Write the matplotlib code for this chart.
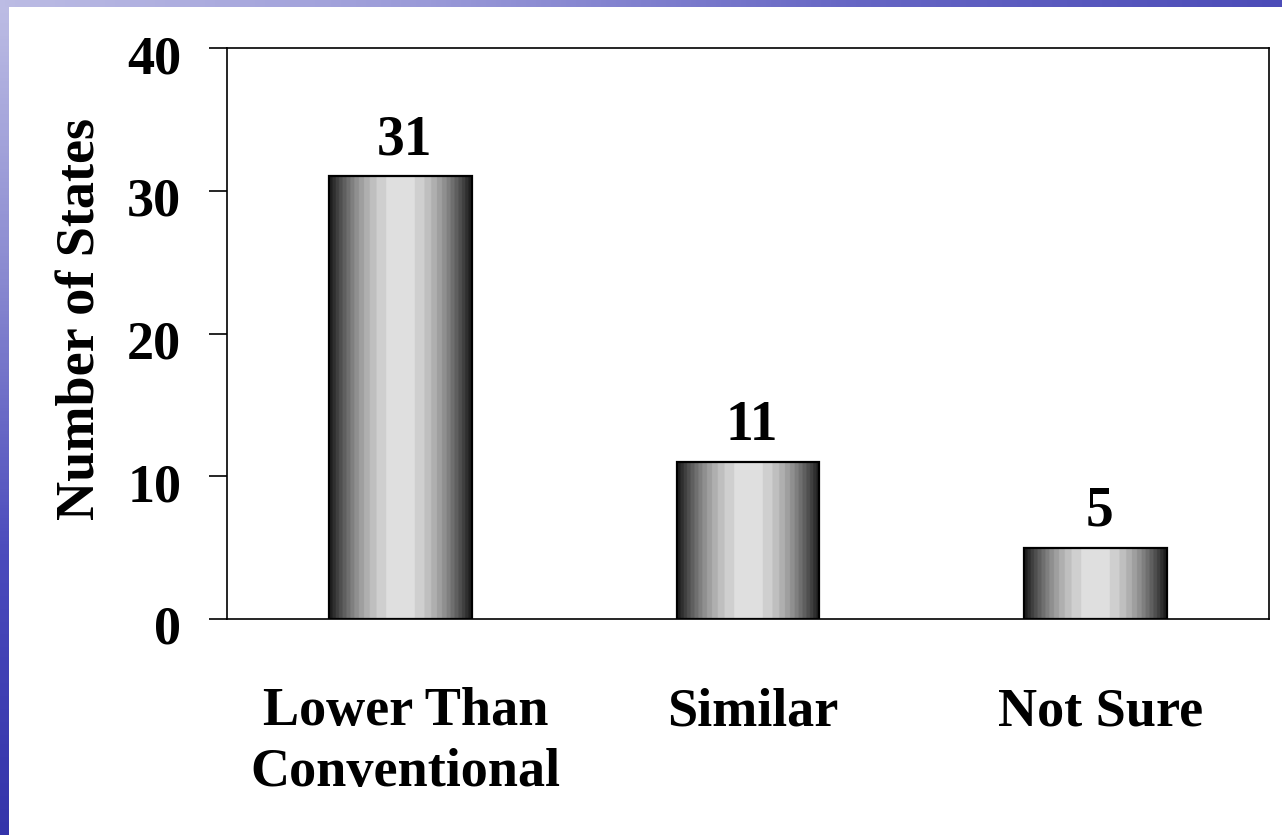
import numpy as np
import matplotlib
matplotlib.use("Agg")
import matplotlib.pyplot as plt
from matplotlib.colors import LinearSegmentedColormap
from matplotlib.transforms import ScaledTranslation

categories = ["Lower Than\nConventional", "Similar", "Not Sure"]
values = [31, 11, 5]
yticks = [0, 10, 20, 30, 40]
ylabel = "Number of States"

plt.rcParams["font.family"] = ["Liberation Serif", "DejaVu Serif"]
plt.rcParams["font.weight"] = "bold"

W, H = 1282, 835
fig = plt.figure(figsize=(W / 100, H / 100), dpi=100)
fig.patch.set_facecolor("white")

# slide decoration: blue bands along the top and left edges
top_band = fig.add_axes([0, 1 - 7 / H, 1, 7 / H])
top_cmap = LinearSegmentedColormap.from_list("tb", ["#bcbce4", "#9a9ad8", "#6666c4", "#4c4cb8"])
top_band.imshow(np.linspace(0, 1, 256)[None, :], cmap=top_cmap, aspect="auto")
top_band.axis("off")

left_band = fig.add_axes([0, 0, 9 / W, 1 - 7 / H])
left_cmap = LinearSegmentedColormap.from_list("lb", ["#bcbce4", "#8888d0", "#4a4abc", "#3434aa"])
left_band.imshow(np.linspace(0, 1, 256)[:, None], cmap=left_cmap, aspect="auto")
left_band.axis("off")

ax = fig.add_axes([227 / W, 1 - 619 / H, (1269 - 227) / W, (619 - 48) / H])
x = np.arange(len(categories))
bars = ax.bar(x, values, width=0.41, facecolor="none", edgecolor="black",
              linewidth=1.6, zorder=3)

# cylinder-like shading: dark edges, light centre, in soft bands
t = np.linspace(0, 1, 400)
shade = 0.08 + 0.80 * np.sin(np.pi * t) ** 0.9
shade = np.round(shade * 16) / 16
grad = np.dstack([shade, shade, shade])[0:1]
for b in bars:
    x0, y0 = b.get_x(), b.get_y()
    w, h = b.get_width(), b.get_height()
    im = ax.imshow(grad, extent=[x0, x0 + w, y0, y0 + h], aspect="auto",
                   interpolation="bilinear", zorder=2)
    im.set_clip_path(b)

for xi, v in zip(x, values):
    ax.annotate(str(v), (xi, v), xytext=(3, 7), textcoords="offset points",
                ha="center", va="bottom", fontsize=40, fontweight="bold")

ax.set_xlim(-0.5, len(categories) - 0.5)
ax.set_ylim(0, 40)
ax.set_yticks(yticks)
ax.set_yticklabels([str(v) for v in yticks], fontsize=39, fontweight="bold")
ax.tick_params(axis="y", direction="out", length=13, width=1.2, pad=20)
ax.set_xticks(x)
ax.set_xticklabels(categories, fontsize=39, fontweight="bold", linespacing=1.28)
ax.tick_params(axis="x", length=0, pad=49)
for s in ax.spines.values():
    s.set_linewidth(1.2)
ax.set_ylabel(ylabel, fontsize=39, fontweight="bold", labelpad=15, y=0.525)

down = ScaledTranslation(0, -6 / 100, fig.dpi_scale_trans)
for lbl in ax.get_yticklabels():
    lbl.set_transform(lbl.get_transform() + down)
right = ScaledTranslation(5 / 100, 0, fig.dpi_scale_trans)
for lbl in ax.get_xticklabels():
    lbl.set_transform(lbl.get_transform() + right)

fig.savefig("out.png", dpi=100, facecolor="white")
